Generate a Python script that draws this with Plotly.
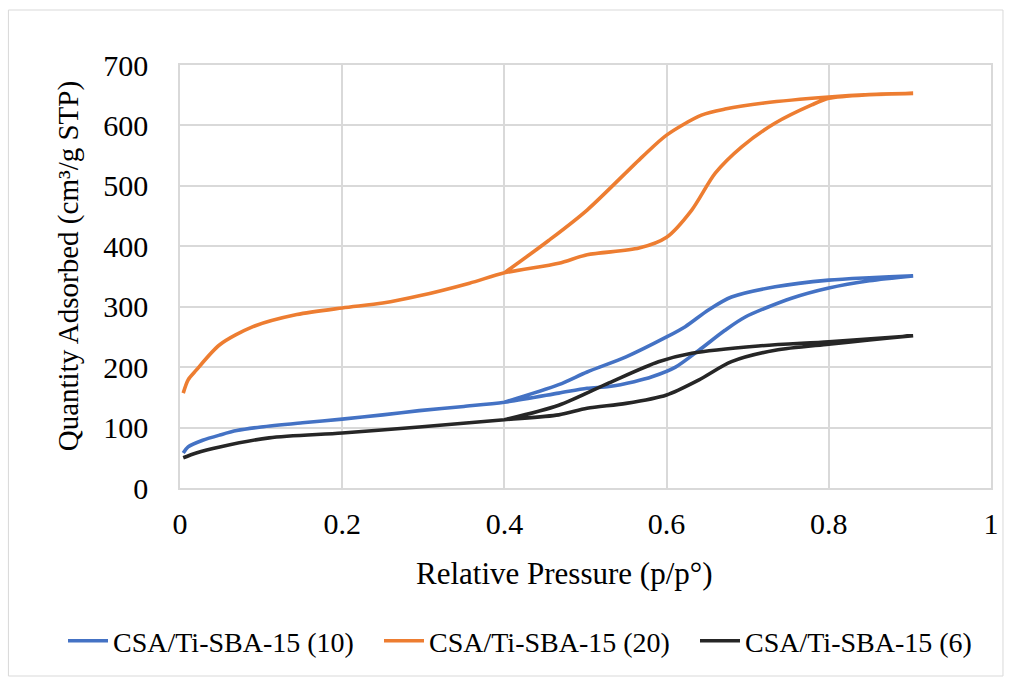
import plotly.graph_objects as go

# CSA/Ti-SBA-15 (10)
p_ads_10 = [0.004, 0.01, 0.028, 0.05, 0.07, 0.1, 0.151, 0.2, 0.25, 0.295, 0.35, 0.4, 0.467, 0.502, 0.529, 0.56, 0.582, 0.611, 0.64, 0.672, 0.697, 0.754, 0.8, 0.85, 0.904]
q_ads_10 = [58, 68, 79, 88, 95, 101, 108, 114, 121, 128, 135, 142, 157, 165, 168, 176, 184, 200, 228, 261, 283, 314, 331, 343, 351]
p_des_10 = [0.904, 0.85, 0.8, 0.734, 0.68, 0.652, 0.623, 0.6, 0.55, 0.502, 0.467, 0.4]
q_des_10 = [351, 348, 344, 333, 316, 295, 267, 250, 217, 192, 171, 142]

# CSA/Ti-SBA-15 (20)
p_ads_20 = [0.004, 0.01, 0.02, 0.049, 0.09, 0.144, 0.2, 0.25, 0.295, 0.357, 0.4, 0.467, 0.502, 0.566, 0.6, 0.631, 0.66, 0.693, 0.734, 0.779, 0.8, 0.85, 0.904]
q_ads_20 = [157, 179, 195, 237, 267, 287, 298, 306, 318, 339, 356, 372, 386, 397, 415, 460, 521, 565, 604, 634, 645, 651, 653]
p_des_20 = [0.904, 0.85, 0.8, 0.72, 0.672, 0.643, 0.6, 0.57, 0.502, 0.455, 0.4]
q_des_20 = [653, 651, 647, 637, 627, 617, 584, 548, 460, 410, 356]

# CSA/Ti-SBA-15 (6)
p_ads_6 = [0.004, 0.02, 0.049, 0.11, 0.2, 0.295, 0.4, 0.467, 0.502, 0.55, 0.6, 0.64, 0.68, 0.734, 0.8, 0.85, 0.904]
q_ads_6 = [50, 58, 68, 83, 91, 101, 113, 121, 132, 140, 154, 179, 209, 228, 238, 245, 252]
p_des_6 = [0.904, 0.8, 0.713, 0.631, 0.59, 0.529, 0.467, 0.4]
q_des_6 = [252, 242, 235, 223, 209, 174, 137, 113]

names = ["CSA/Ti-SBA-15 (10)", "CSA/Ti-SBA-15 (20)", "CSA/Ti-SBA-15 (6)"]
colors = ["#4472C4", "#ED7D31", "#262626"]

series = [
    (p_ads_10 + p_des_10, q_ads_10 + q_des_10),
    (p_ads_20 + p_des_20, q_ads_20 + q_des_20),
    (p_ads_6 + p_des_6, q_ads_6 + q_des_6),
]

fig = go.Figure()
for (xs, ys), n, c in zip(series, names, colors):
    fig.add_trace(go.Scatter(x=xs, y=ys, mode="lines", name=n,
                             line=dict(color=c, width=3.6, shape="spline", smoothing=0.8)))

font_family = "Liberation Serif"
grid = "#d9d9d9"

fig.update_layout(
    width=1011, height=679,
    margin=dict(l=180, r=18, t=65, b=191),
    paper_bgcolor="white", plot_bgcolor="white",
    font=dict(family=font_family, color="#000000", size=30),
    showlegend=True,
    legend=dict(orientation="h", xref="paper", x=(100 - 180) / 813, xanchor="left",
                yref="paper", y=(488 - 641) / 423, yanchor="middle",
                font=dict(size=28, family=font_family), itemwidth=40,
                entrywidth=261, entrywidthmode="pixels",
                tracegroupgap=0, bgcolor="rgba(0,0,0,0)"),
    xaxis=dict(range=[0, 1], dtick=0.2, showgrid=True, gridcolor=grid, gridwidth=1.5,
               showline=True, linecolor=grid, linewidth=1.5, mirror=True,
               zeroline=False, ticks="", tickfont=dict(size=30, family=font_family),
               ticklabelstandoff=8, tickformat="~g"),
    yaxis=dict(range=[0, 700], dtick=100, showgrid=True, gridcolor=grid, gridwidth=1.5,
               showline=True, linecolor=grid, linewidth=1.5, mirror=True,
               zeroline=False, ticks="", tickfont=dict(size=30, family=font_family),
               ticklabelstandoff=24),
    annotations=[
        dict(text="Relative Pressure (p/p°)", xref="paper", yref="paper",
             x=(565 - 180) / 813, y=(488 - 573) / 423, xanchor="center", yanchor="middle",
             showarrow=False, font=dict(size=31, family=font_family)),
        dict(text="Quantity Adsorbed (cm³/g STP)", xref="paper", yref="paper",
             x=(68 - 180) / 813, y=(488 - 266) / 423, xanchor="center", yanchor="middle",
             textangle=-90, showarrow=False, font=dict(size=29, family=font_family)),
    ],
    shapes=[dict(type="rect", xref="paper", yref="paper",
                 x0=(8 - 180) / 813, x1=(1005 - 180) / 813,
                 y0=(488 - 676) / 423, y1=(488 - 10) / 423,
                 line=dict(color=grid, width=1), layer="below")],
)

fig.write_html("out.html")
